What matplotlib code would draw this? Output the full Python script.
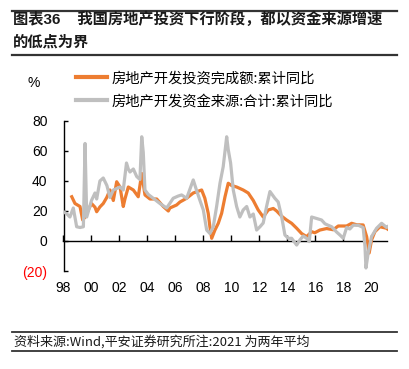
import matplotlib
matplotlib.use("Agg")
import matplotlib.pyplot as plt

plt.rcParams['font.family'] = ['Liberation Sans', 'Noto Sans CJK SC', 'DejaVu Sans']

# ---------------- data ----------------
title_lines = ["图表36    我国房地产投资下行阶段，都以资金来源增速", "的低点为界"]
source_text = "资料来源:Wind,平安证券研究所注:2021 为两年平均"
series_names = ["房地产开发投资完成额:累计同比", "房地产开发资金来源:合计:累计同比"]
y_unit = "%"

invest_t = [1998.59, 1998.82, 1999.18, 1999.37, 1999.54, 1999.77, 2000.00, 2000.25, 2000.37, 2000.60,
            2000.84, 2001.09, 2001.32, 2001.56, 2001.80, 2002.04, 2002.27, 2002.39, 2002.63, 2002.99,
            2003.34, 2003.59, 2003.82, 2004.18, 2004.66, 2005.13, 2005.49, 2005.60, 2006.08, 2006.32,
            2006.80, 2007.27, 2007.87, 2008.10, 2008.34, 2008.46, 2008.59, 2008.82, 2009.06, 2009.30,
            2009.54, 2009.77, 2010.01, 2010.37, 2010.84, 2011.20, 2011.56, 2011.91, 2012.27, 2012.63,
            2012.99, 2013.23, 2013.59, 2013.94, 2014.30, 2014.66, 2015.01, 2015.37, 2015.73, 2015.96,
            2016.32, 2016.80, 2017.27, 2017.63, 2018.23, 2018.59, 2018.95, 2019.41, 2019.66, 2019.84,
            2020.01, 2020.25, 2020.61, 2021.08, 2021.15]
invest_v = [29.5, 25, 23, 14, 16, 20.7, 25, 22.5, 19.5, 22.7,
            25, 29, 34, 27, 39.5, 36, 23, 28, 36, 34,
            29.5, 45, 30.7, 28, 28, 23, 20, 22, 24, 26,
            28.5, 32, 34, 28.5, 18.5, 9.5, 1.8, 7.3, 11.8, 18.5,
            29.5, 38.5, 37, 36, 34, 32, 27, 20.7, 16, 20.7,
            21.7, 20, 16.5, 14, 11.8, 8.5, 5, 2.9, 6.2, 5.5,
            7.3, 8.3, 7.5, 10, 10, 11.8, 10.8, 10.7, 2.9, -8,
            0.7, 6.2, 9.5, 8.5, 8]

funds_t = [1998.00, 1998.25, 1998.46, 1998.70, 1998.94, 1999.18, 1999.42, 1999.54, 1999.66, 2000.00,
           2000.25, 2000.37, 2000.60, 2000.84, 2001.10, 2001.32, 2001.56, 2001.80, 2002.04, 2002.27,
           2002.50, 2002.63, 2002.75, 2002.99, 2003.23, 2003.46, 2003.59, 2003.70, 2003.82, 2004.06,
           2004.41, 2004.89, 2005.37, 2005.84, 2006.20, 2006.44, 2006.80, 2007.27, 2007.50, 2007.75,
           2007.99, 2008.23, 2008.46, 2008.70, 2008.94, 2009.18, 2009.41, 2009.66, 2009.77, 2009.94,
           2010.13, 2010.37, 2010.60, 2010.84, 2011.09, 2011.32, 2011.56, 2011.80, 2012.04, 2012.27,
           2012.51, 2012.75, 2013.10, 2013.34, 2013.59, 2013.82, 2014.06, 2014.30, 2014.66, 2014.89,
           2015.13, 2015.37, 2015.56, 2015.73, 2016.09, 2016.44, 2016.68, 2016.91, 2017.16, 2017.51,
           2017.75, 2017.99, 2018.23, 2018.46, 2018.70, 2019.06, 2019.41, 2019.54, 2019.61, 2019.77,
           2020.01, 2020.37, 2020.73, 2021.09, 2021.15]
funds_v = [19.5, 18, 16, 22, 9.5, 9, 9.5, 65, 16, 27,
           32, 28, 40, 42, 37, 29, 34, 35, 36, 34,
           52, 48, 46, 48, 43, 41, 69.5, 59, 34, 31,
           28.5, 25, 22, 28.5, 30, 30.7, 28.5, 40.7, 34, 27,
           20.7, 7.3, 5, 9.5, 23, 38.5, 49.5, 69.5, 61, 52,
           34, 23, 16, 20.7, 23, 16, 18, 7.3, 9.5, 12,
           23, 33, 28.5, 26, 16, 4, 1.8, 1.8, -2.7, 0.7,
           3.3, 1.8, -0.4, 16, 15, 14, 11.5, 10.5, 9.5, 6,
           4, 1.8, 9, 8, 10.5, 10.5, 9, -3.6, -18, -8,
           2.9, 8.5, 11.8, 9, 9.5]

x_ticks = [1998, 2000, 2002, 2004, 2006, 2008, 2010, 2012, 2014, 2016, 2018, 2020]
x_tick_labels = ["98", "00", "02", "04", "06", "08", "10", "12", "14", "16", "18", "20"]
y_ticks = [-20, 0, 20, 40, 60, 80]
y_tick_labels = ["(20)", "0", "20", "40", "60", "80"]

# ---------------- figure ----------------
W, H = 409, 369
fig = plt.figure(figsize=(W / 100, H / 100), dpi=100)

def fx(px):
    return px / W

def fy(py):
    return 1 - py / H

ax = fig.add_axes([fx(63.5), fy(271), fx(387.5) - fx(63.5), fy(121) - fy(271)])

orange = "#ED7D31"
gray = "#BFBFBF"
l1, = ax.plot(invest_t, invest_v, color=orange, lw=2.3, solid_joinstyle='round', zorder=3)
l2, = ax.plot(funds_t, funds_v, color=gray, lw=2.3, solid_joinstyle='round', zorder=4)

ax.set_xlim(1998, 2021.15)
ax.set_ylim(-20, 80)

for s in ['top', 'right', 'bottom']:
    ax.spines[s].set_visible(False)
ax.spines['left'].set_color('black')
ax.spines['left'].set_linewidth(1.0)

ax.set_yticks(y_ticks)
ax.set_yticklabels(y_tick_labels, fontsize=10)
for lab, val in zip(ax.get_yticklabels(), y_ticks):
    lab.set_color('#FF0000' if val < 0 else 'black')
ax.tick_params(axis='y', direction='in', length=3, width=1, pad=11.5)

ax.set_xticks(x_ticks)
ax.set_xticklabels(x_tick_labels, fontsize=10)
ax.tick_params(axis='x', length=0, pad=7.5)

# zero line with upward ticks
sec = ax.secondary_xaxis(0.2)
sec.set_xticks(x_ticks)
sec.tick_params(axis='x', direction='in', length=4, width=1, labelbottom=False, labeltop=False)
sec.spines['bottom'].set_color('black')
sec.spines['bottom'].set_linewidth(1.0)

# unit label
fig.text(fx(34), fy(83), y_unit, fontsize=10, ha='center', va='center')

# legend
leg = fig.legend([l1, l2], series_names, loc='upper left',
                 bbox_to_anchor=(fx(76), fy(71.5)), frameon=False,
                 prop={'family': ['Noto Sans CJK SC', 'DejaVu Sans'], 'size': 10.3},
                 handlelength=2.2, handletextpad=0.3, labelspacing=0.62,
                 borderpad=0, borderaxespad=0)
for h in leg.legend_handles:
    h.set_linewidth(3)

# title
cjk = ['Liberation Sans', 'Noto Sans CJK SC', 'DejaVu Sans']
fig.text(fx(13), fy(19.3), title_lines[0], fontsize=11, fontweight='bold',
         family=cjk, ha='left', va='center', color='#1a1a1a')
fig.text(fx(13), fy(42.7), title_lines[1], fontsize=11, fontweight='bold',
         family=cjk, ha='left', va='center', color='#1a1a1a')

# rules
for yy, lw in [(11, 1.6), (54.5, 1.6), (331.7, 1.3), (350.7, 1.3)]:
    fig.add_artist(plt.Line2D([fx(12), fx(397)], [fy(yy), fy(yy)], color='#333333',
                              lw=lw, transform=fig.transFigure))

# source
fig.text(fx(14), fy(341.5), source_text, fontsize=9.4, family=['Noto Sans CJK SC', 'DejaVu Sans'],
         ha='left', va='center', color='#1a1a1a', style='italic')

fig.savefig("out.png", dpi=100)
